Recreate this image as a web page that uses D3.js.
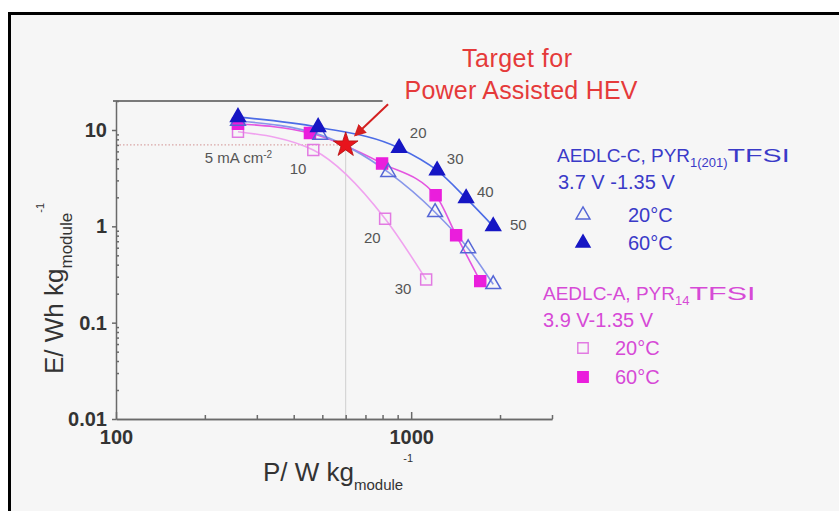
<!DOCTYPE html>
<html>
<head>
<meta charset="utf-8">
<script src="https://cdn.jsdelivr.net/npm/d3@7"></script>
<style>
  html, body { margin: 0; padding: 0; background: #fff; }
  svg { display: block; font-family: "Liberation Sans", Arial, sans-serif; }
</style>
</head>
<body>
<div id="chart"></div>
<script>
// values (P in W/kg, E in Wh/kg)
var c60P = [259, 484, 910, 1224, 1535, 1897]
var c60E = [13.6, 10.7, 6.5, 3.8, 1.96, 1.0]
var c20P = [259, 492, 836, 1205, 1560, 1897]
var c20E = [12.4, 8.9, 3.65, 1.4, 0.59, 0.25]
var a60P = [259, 454, 797, 1210, 1420, 1714]
var a60E = [11.6, 9.3, 4.5, 2.1, 0.81, 0.27]
var a20P = [259, 466, 816, 1124]
var a20E = [9.6, 6.2, 1.2, 0.28]

var target = [600, 7]
var arrowFrom = [835, 18.5]

var xMajor = [100, 1000]
var xMinor = [200, 300, 400, 500, 600, 700, 800, 900, 2000, 3000]
var yMajor = [0.01, 0.1, 1, 10]
var yMinor = []
;[0.01, 0.1, 1, 10].forEach(function (d) {
    for (var k = 2; k <= 9; k++) if (d * k <= 20) yMinor.push(d * k)
})

// current density labels, placed in data coordinates
var rateText = ["10", "20", "30", "20", "30", "40", "50"]
var rateP = [414, 738, 939, 1056, 1410, 1782, 2306]
var rateE = [4.0, 0.77, 0.226, 9.3, 5.0, 2.26, 1.05]
var rateColor = "#555"

var blueText = "#3a3ac8"
var pinkText = "#d64ad6"

var width = 839, height = 511

var svg = d3.select("#chart").append("svg")
    .attr("width", width)
    .attr("height", height)

// slide frame
svg.append("rect")
    .attr("x", 9.5).attr("y", 13.5)
    .attr("width", 900).attr("height", 600)
    .attr("fill", "#f6f6f6")
    .attr("stroke", "#000")
    .attr("stroke-width", 3)

var x = d3.scaleLog().domain([100, 3000]).range([116, 552])
var y = d3.scaleLog().domain([0.01, 20]).range([419, 101])

// top frame line (partly hidden behind the title box in the original)
svg.append("line")
    .attr("x1", 113).attr("x2", x(800))
    .attr("y1", y(20)).attr("y2", y(20))
    .attr("stroke", "#7a7a7a").attr("stroke-width", 2)

// guide lines to the target
svg.append("line")
    .attr("x1", x(100)).attr("x2", x(target[0]))
    .attr("y1", y(target[1])).attr("y2", y(target[1]))
    .attr("stroke", "#d9a6a6").attr("stroke-width", 1.2)
    .attr("stroke-dasharray", "1.5,2")
svg.append("line")
    .attr("x1", x(target[0])).attr("x2", x(target[0]))
    .attr("y1", y(target[1])).attr("y2", y(0.01))
    .attr("stroke", "#cfcfcf").attr("stroke-width", 1)

// axes
function styleAxis(g) {
    g.selectAll("path, line").attr("stroke", "#6a6a6a").attr("stroke-width", 1.5)
    g.selectAll("text")
        .attr("fill", "#333")
        .style("font-size", "20px")
        .style("font-weight", "bold")
        .style("font-family", "Liberation Sans, Arial, sans-serif")
}

svg.append("g")
    .attr("transform", "translate(0," + y(0.01) + ")")
    .call(d3.axisBottom(x).tickValues(xMinor).tickSizeInner(-4).tickSizeOuter(0).tickFormat(""))
    .call(styleAxis)
svg.append("g")
    .attr("transform", "translate(0," + y(0.01) + ")")
    .call(d3.axisBottom(x).tickValues(xMajor).tickSizeInner(-7).tickSizeOuter(0)
        .tickPadding(11).tickFormat(d3.format("d")))
    .call(styleAxis)

svg.append("g")
    .attr("transform", "translate(" + x(100) + ",0)")
    .call(d3.axisLeft(y).tickValues(yMinor).tickSizeInner(-3).tickSizeOuter(0).tickFormat(""))
    .call(styleAxis)
svg.append("g")
    .attr("transform", "translate(" + x(100) + ",0)")
    .call(d3.axisLeft(y).tickValues(yMajor).tickSizeInner(4).tickSizeOuter(0)
        .tickPadding(5).tickFormat(function (d) { return d3.format("~g")(d) }))
    .call(styleAxis)
    .call(function (g) { g.select(".domain").remove() })

// axis titles
var xt = svg.append("text")
    .attr("x", 263).attr("y", 481)
    .attr("fill", "#333")
    .style("font-size", "26px")
xt.append("tspan").text("P/ W kg")
xt.append("tspan").attr("dy", 9).style("font-size", "15px").text("module")
xt.append("tspan").attr("dy", -28).style("font-size", "11px").text("-1")

var yt = svg.append("text")
    .attr("transform", "translate(63,374) rotate(-90)")
    .attr("fill", "#333")
    .style("font-size", "26px")
yt.append("tspan").text("E/ Wh kg")
yt.append("tspan").attr("dy", 9).style("font-size", "17px").text("module")
yt.append("tspan").attr("dy", -28).style("font-size", "11px").text("-1")

// series
var series = [
    { P: a20P, E: a20E, line: "#f0a2ef", shape: d3.symbolSquare, fill: "none", stroke: "#e27ae2", size: 120 },
    { P: a60P, E: a60E, line: "#e455e0", shape: d3.symbolSquare, fill: "#ea1edc", stroke: "#ea1edc", size: 120 },
    { P: c20P, E: c20E, line: "#8896ea", shape: d3.symbolTriangle, fill: "none", stroke: "#5566d6", size: 95 },
    { P: c60P, E: c60E, line: "#4c6ce6", shape: d3.symbolTriangle, fill: "#1616c4", stroke: "#1616c4", size: 95 }
]

var line = d3.line()
    .x(function (d) { return x(d[0]) })
    .y(function (d) { return y(d[1]) })
    .curve(d3.curveMonotoneX)

series.forEach(function (s) {
    var pts = s.P.map(function (p, i) { return [p, s.E[i]] })
    svg.append("path")
        .attr("d", line(pts))
        .attr("fill", "none")
        .attr("stroke", s.line)
        .attr("stroke-width", 1.6)
})

series.forEach(function (s) {
    var pts = s.P.map(function (p, i) { return [p, s.E[i]] })
    svg.append("g").selectAll("path")
        .data(pts)
        .enter().append("path")
        .attr("transform", function (d) { return "translate(" + x(d[0]) + "," + y(d[1]) + ")" })
        .attr("d", d3.symbol().type(s.shape).size(s.size))
        .attr("fill", s.fill)
        .attr("stroke", s.stroke)
        .attr("stroke-width", 1.5)
})

// rate labels
svg.append("g").selectAll("text")
    .data(rateText)
    .enter().append("text")
    .attr("x", function (d, i) { return x(rateP[i]) })
    .attr("y", function (d, i) { return y(rateE[i]) })
    .attr("dy", "0.35em")
    .attr("text-anchor", "middle")
    .attr("fill", rateColor)
    .style("font-size", "15px")
    .text(function (d) { return d })

var ma = svg.append("text")
    .attr("x", x(200)).attr("y", y(5.2))
    .attr("dy", "0.35em")
    .attr("fill", rateColor)
    .style("font-size", "15px")
ma.append("tspan").text("5 mA cm")
ma.append("tspan").attr("dy", -5).style("font-size", "10px").text("-2")

// target star and arrow
svg.append("defs").append("marker")
    .attr("id", "head")
    .attr("viewBox", "0 0 10 10")
    .attr("refX", 8).attr("refY", 5)
    .attr("markerWidth", 6).attr("markerHeight", 6)
    .attr("orient", "auto")
    .append("path")
    .attr("d", "M0,0L10,5L0,10z")
    .attr("fill", "#d42020")

svg.append("line")
    .attr("x1", x(arrowFrom[0])).attr("y1", y(arrowFrom[1]))
    .attr("x2", x(target[0]) + 10).attr("y2", y(target[1]) - 10)
    .attr("stroke", "#d42020").attr("stroke-width", 2)
    .attr("marker-end", "url(#head)")

svg.append("path")
    .attr("transform", "translate(" + x(target[0]) + "," + y(target[1]) + ")")
    .attr("d", d3.symbol().type(d3.symbolStar).size(190))
    .attr("fill", "#e8141c")
    .attr("stroke", "#b01010")
    .attr("stroke-width", 0.8)

// title
svg.append("text")
    .attr("x", 517).attr("y", 67)
    .attr("text-anchor", "middle")
    .attr("fill", "#e53a3a")
    .style("font-size", "25px")
    .attr("textLength", 110)
    .text("Target for")
svg.append("text")
    .attr("x", 521).attr("y", 99)
    .attr("text-anchor", "middle")
    .attr("fill", "#e53a3a")
    .style("font-size", "25px")
    .attr("textLength", 233)
    .text("Power Assisted HEV")

// legends
function legendTitle(x0, y0, color, main, sub, tail, tailWidth) {
    var t = svg.append("text")
        .attr("x", x0).attr("y", y0)
        .attr("fill", color)
        .style("font-size", "19px")
    t.append("tspan").text(main)
    t.append("tspan").attr("dy", 5).style("font-size", "13px").text(sub)
    t.append("tspan").attr("dy", -5)
        .attr("textLength", tailWidth).attr("lengthAdjust", "spacingAndGlyphs")
        .text(tail)
}
function legendText(x0, y0, color, txt) {
    svg.append("text")
        .attr("x", x0).attr("y", y0)
        .attr("fill", color)
        .style("font-size", "20px")
        .text(txt)
}
function legendMark(x0, y0, s) {
    svg.append("path")
        .attr("transform", "translate(" + x0 + "," + y0 + ")")
        .attr("d", d3.symbol().type(s.shape).size(s.size * 0.9))
        .attr("fill", s.fill)
        .attr("stroke", s.stroke)
        .attr("stroke-width", 1.4)
}

legendTitle(557, 162, blueText, "AEDLC-C, PYR", "1(201)", "TFSI", 62)
legendText(558, 189, blueText, "3.7 V -1.35 V")
legendMark(583, 215, series[2])
legendText(628, 222, blueText, "20°C")
legendMark(583, 243, series[3])
legendText(628, 250, blueText, "60°C")

legendTitle(543, 300, pinkText, "AEDLC-A, PYR", "14", "TFSI", 66)
legendText(543, 327, pinkText, "3.9 V-1.35 V")
legendMark(583, 348, series[0])
legendText(615, 355, pinkText, "20°C")
legendMark(583, 377, series[1])
legendText(615, 384, pinkText, "60°C")
</script>
</body>
</html>
